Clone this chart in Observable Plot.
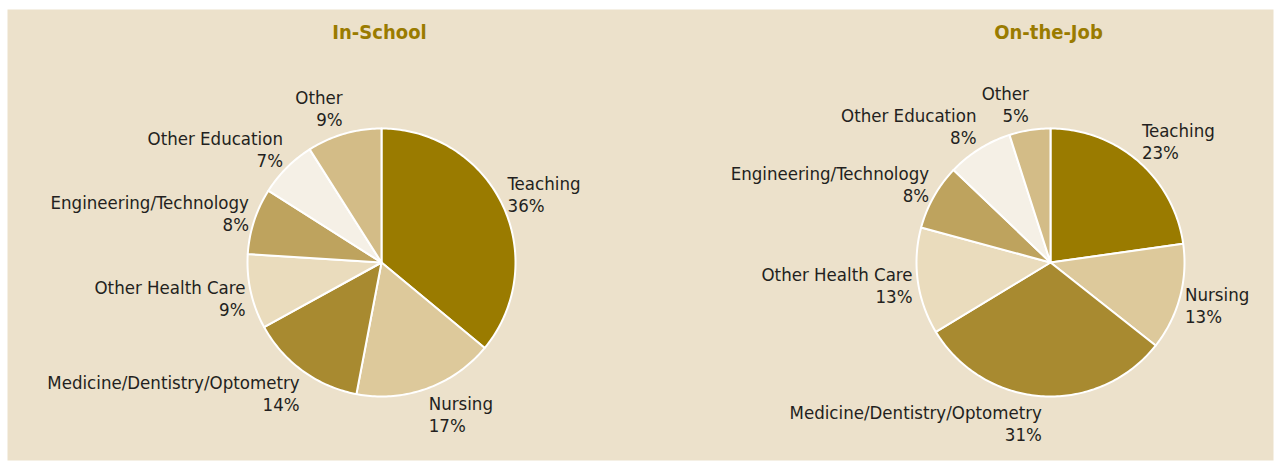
<!DOCTYPE html>
<html>
<head>
<meta charset="utf-8">
<script src="https://cdn.jsdelivr.net/npm/d3@7"></script>
<script src="https://cdn.jsdelivr.net/npm/@observablehq/plot@0.6"></script>
<style>
  html, body { margin: 0; padding: 0; background: #ffffff; }
  #chart svg { display: block; }
</style>
</head>
<body>
<div id="chart"></div>
<script>
// ---- data ----
const categories = ["Teaching", "Nursing", "Medicine/Dentistry/Optometry", "Other Health Care", "Engineering/Technology", "Other Education", "Other"];
const inSchool = [36, 17, 14, 9, 8, 7, 9];
const onTheJob = [23, 13, 31, 13, 8, 8, 5];
const panelTitles = ["In-School", "On-the-Job"];

// ---- styles / layout ----
const palette = ["#9a7b00", "#ddc99b", "#a88a30", "#eadcbd", "#bea35e", "#f5f0e6", "#d3bc87"];
const W = 1278, H = 469;
const M = {left: 7, right: 5, top: 9, bottom: 9};
const R = 134;
const centers = {"In-School": [381, 262], "On-the-Job": [1050, 262]};
const font = "'Liberation Sans Narrow', 'DejaVu Sans Condensed', 'Open Sans', sans-serif";

const series = {"In-School": inSchool, "On-the-Job": onTheJob};

const slicePoints = [];
const labels = [];
for (const panel of panelTitles) {
  const [cx, cy] = centers[panel];
  const rows = categories.map((c, i) => ({category: c, value: series[panel][i]}));
  const arcs = d3.pie().sort(null).value(d => d.value)(rows);
  for (const a of arcs) {
    const key = panel + "|" + a.data.category;
    slicePoints.push({key, category: a.data.category, x: cx, y: cy});
    const n = Math.max(2, Math.ceil((a.endAngle - a.startAngle) / (Math.PI / 180)));
    for (let k = 0; k <= n; k++) {
      const t = a.startAngle + (a.endAngle - a.startAngle) * k / n;
      slicePoints.push({key, category: a.data.category, x: cx + R * Math.sin(t), y: cy - R * Math.cos(t)});
    }
    slicePoints.push({key, category: a.data.category, x: cx, y: cy});
    const m = (a.startAngle + a.endAngle) / 2;
    labels.push({
      text: a.data.category + "\n" + a.data.value + "%",
      x: cx + R * 1.04 * Math.sin(m),
      y: cy - R * 1.2 * Math.cos(m),
      side: Math.sin(m) >= 0 ? "right" : "left"
    });
  }
}
const titles = panelTitles.map(p => ({title: p, x: centers[p][0] - 2, y: 32}));

const chart = Plot.plot({
  width: W,
  height: H,
  marginLeft: M.left, marginRight: M.right, marginTop: M.top, marginBottom: M.bottom,
  x: {domain: [M.left, W - M.right], axis: null},
  y: {domain: [M.top, H - M.bottom], reverse: true, axis: null},
  color: {type: "ordinal", domain: categories, range: palette},
  style: {fontFamily: font, background: "#ffffff", overflow: "visible"},
  marks: [
    Plot.frame({fill: "#ece1cb", stroke: null}),
    Plot.line(slicePoints, {x: "x", y: "y", z: "key", fill: "category", stroke: "#ffffff", strokeWidth: 2, strokeLinejoin: "round", curve: "linear"}),
    Plot.text(labels.filter(d => d.side === "right"), {x: "x", y: "y", text: "text", textAnchor: "start", lineAnchor: "middle", lineHeight: 1.2, fontSize: 18.5, fill: "#231f20"}),
    Plot.text(labels.filter(d => d.side === "left"), {x: "x", y: "y", text: "text", textAnchor: "end", lineAnchor: "middle", lineHeight: 1.2, fontSize: 18.5, fill: "#231f20"}),
    Plot.text(titles, {x: "x", y: "y", text: "title", fontSize: 20, fontWeight: "bold", fill: "#9a7b00", lineAnchor: "middle"})
  ]
});
document.getElementById("chart").appendChild(chart);
</script>
</body>
</html>
